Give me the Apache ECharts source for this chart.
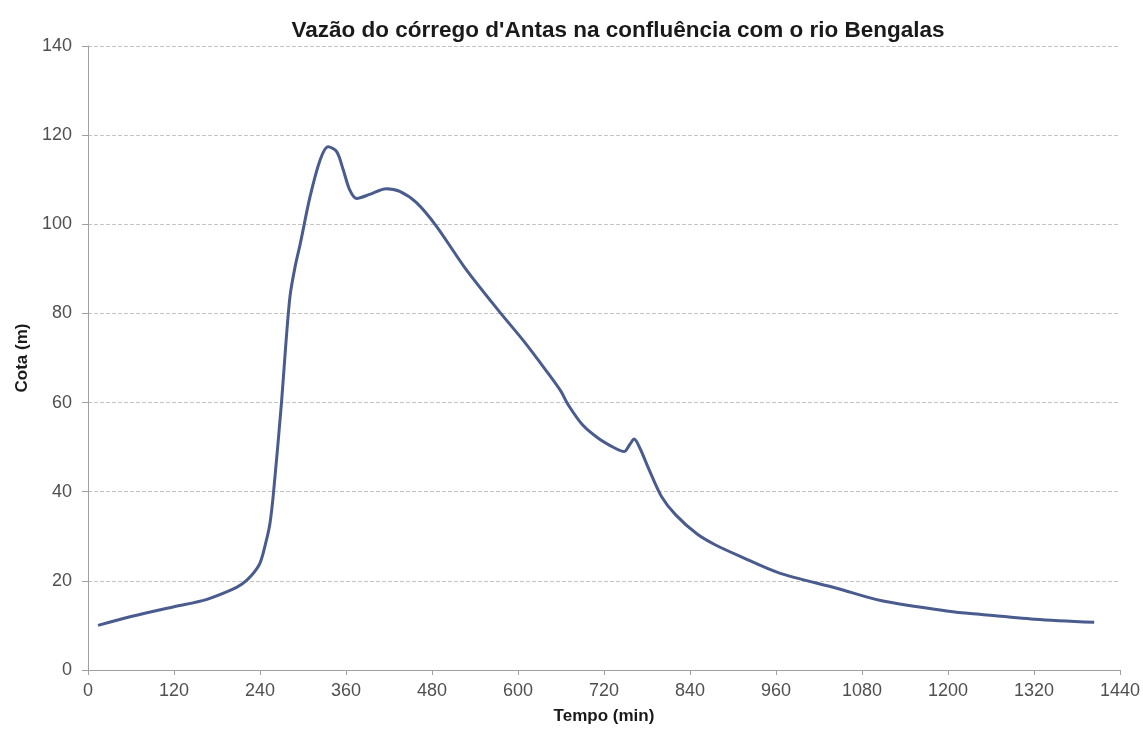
<!DOCTYPE html>
<html>
<head>
<meta charset="utf-8">
<title>Vazão do córrego d'Antas</title>
<script src="https://cdn.jsdelivr.net/npm/echarts@6/dist/echarts.min.js"></script>
<style>
  html, body { margin: 0; padding: 0; background: #fff; }
  #chart { width: 1143px; height: 730px; }
</style>
</head>
<body>
<div id="chart"></div>
<script>
// tempo (min) e cota (m)
var tempo = [14, 60, 120, 165, 199, 215, 228, 240, 248, 254, 259, 270, 276, 282, 289, 296, 310, 324, 335,
  347, 356, 365, 375, 393, 416, 435, 458, 486, 527, 574, 607, 640, 660, 670, 690, 712,
  735, 748, 756, 762, 770, 782, 800, 820, 850, 875, 910, 964, 1046, 1106, 1201, 1244, 1321, 1404];
var cota = [10.0, 12.0, 14.2, 15.8, 17.9, 19.3, 21.2, 24, 28.5, 33, 40, 60, 73, 84, 90.5, 95.5, 106.3, 114.5, 117.4,
  116.3, 112.3, 107.8, 105.8, 106.7, 108.0, 107.4, 104.9, 99.6, 90.0, 80.4, 74.0, 67, 62.5, 59.5, 55, 52.0,
  49.8, 49.0, 50.6, 51.8, 49.8, 45.3, 39, 34.8, 30.5, 28.1, 25.5, 21.8, 18.3, 15.6, 13.2, 12.5, 11.4, 10.7];
var xTicks = [0, 120, 240, 360, 480, 600, 720, 840, 960, 1080, 1200, 1320, 1440];
var yTicks = [0, 20, 40, 60, 80, 100, 120, 140];

var pontos = tempo.map(function (t, i) { return [t, cota[i]]; });

var chart = echarts.init(document.getElementById('chart'));
var fonte = '"Liberation Sans", Arial, sans-serif';

chart.setOption({
  animation: false,
  title: {
    text: "Vazão do córrego d'Antas na confluência com o rio Bengalas",
    left: 613,
    top: 14,
    textAlign: 'center',
    textStyle: { fontFamily: fonte, fontSize: 22.5, fontWeight: 'bold', color: '#1a1a1a' }
  },
  grid: { left: 88, right: 22, top: 46, bottom: 57 },
  xAxis: {
    type: 'value',
    min: xTicks[0],
    max: xTicks[xTicks.length - 1],
    interval: 120,
    name: 'Tempo (min)',
    nameLocation: 'middle',
    nameGap: 38,
    nameTextStyle: { fontFamily: fonte, fontSize: 17, fontWeight: 'bold', color: '#1a1a1a' },
    axisLine: { lineStyle: { color: '#a0a0a0', width: 1 } },
    axisTick: { show: true, length: 5, lineStyle: { color: '#a0a0a0' } },
    axisLabel: {
      margin: 12, fontFamily: fonte, fontSize: 18, color: '#505050',
      formatter: function (v) { return String(v); }
    },
    splitLine: { show: false }
  },
  yAxis: {
    type: 'value',
    min: yTicks[0],
    max: yTicks[yTicks.length - 1],
    interval: 20,
    name: 'Cota (m)',
    nameLocation: 'middle',
    nameGap: 53,
    nameTextStyle: { fontFamily: fonte, fontSize: 17, fontWeight: 'bold', color: '#1a1a1a' },
    axisLine: { show: true, lineStyle: { color: '#a0a0a0', width: 1 } },
    axisTick: { show: true, length: 6, lineStyle: { color: '#a0a0a0' } },
    axisLabel: { margin: 16, fontFamily: fonte, fontSize: 18, color: '#505050' },
    splitLine: { show: true, lineStyle: { color: '#c4c4c4', type: [4, 2], width: 1 } }
  },
  series: [{
    type: 'line',
    data: pontos,
    smooth: 0.3,
    showSymbol: false,
    lineStyle: { color: '#4a5b8e', width: 3 }
  }]
});
</script>
</body>
</html>
